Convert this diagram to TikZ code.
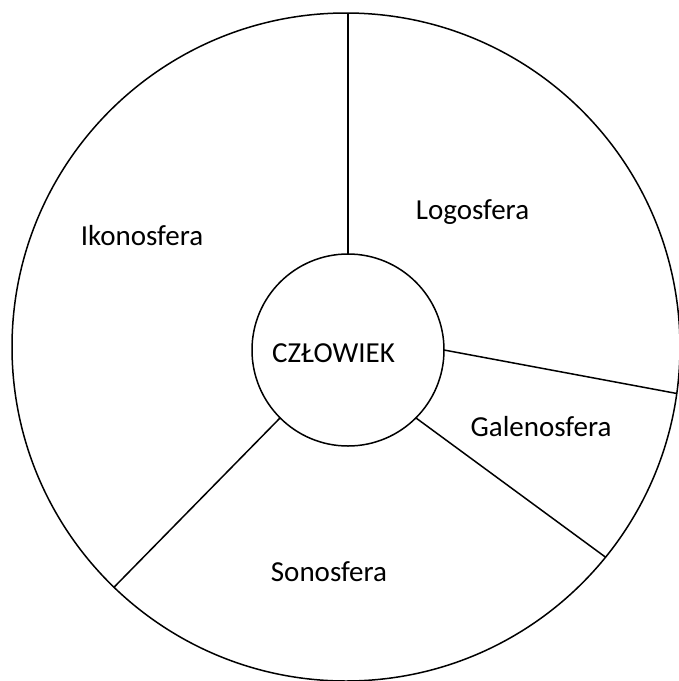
\documentclass[tikz,border=0pt]{standalone}
\usepackage{fontspec}
\setmainfont{Carlito}
\begin{document}
\begin{tikzpicture}[x=1pt,y=-1pt,
  ring/.style={circle,draw,line width=1.5pt,inner sep=0pt,outer sep=0pt},
  sep/.style={line width=1.5pt},
  lab/.style={font=\fontsize{29}{34}\selectfont,inner sep=0pt,anchor=base}]
\useasboundingbox (0,0) rectangle (679,681);
\clip (0,0) rectangle (679,681);
\node[ring,minimum size=668pt] (B) at (346,347) {};
\node[ring,minimum size=192pt] (S) at (348,350) {};
\node[lab] (c) at (333.5,362) {CZŁOWIEK};
\node[lab] (i) at (142,245) {Ikonosfera};
\node[lab] (l) at (472.5,219) {Logosfera};
\node[lab] (g) at (541,436) {Galenosfera};
\node[lab] (s) at (329,581) {Sonosfera};
\draw[sep] (S.north) -- (S.north |- B.north);
\draw[sep] (S.0) -- (B.-8.4);
\draw[sep] (S.-45.4) -- (B.-39.4);
\draw[sep] (S.-135) -- (B.-134.5);
\end{tikzpicture}
\end{document}
